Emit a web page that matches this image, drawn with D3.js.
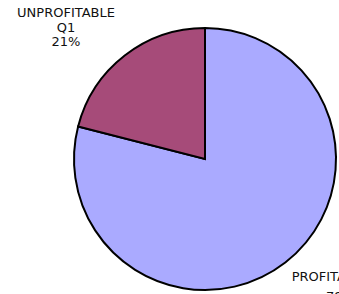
<!DOCTYPE html>
<html>
<head>
<meta charset="utf-8">
<script src="https://cdn.jsdelivr.net/npm/d3@7"></script>
<style>
body { margin: 0; background: #fff; }
text { font-family: "DejaVu Sans", Verdana, sans-serif; font-size: 13px; fill: #111; }
</style>
</head>
<body>
<div id="chart"></div>
<script>
var categories = ["PROFITABLE", "UNPROFITABLE"];
var quarter = "Q1";
var values = [79, 21];
var colors = ["#aaaaff", "#a64b79"];

var width = 339, height = 294,
    cx = 205, cy = 159, radius = 131;

var svg = d3.select("#chart").append("svg")
    .attr("width", width)
    .attr("height", height);

var g = svg.append("g")
    .attr("transform", "translate(" + cx + "," + cy + ")");

var pie = d3.pie().sort(null).value(function(d) { return d; });
var arc = d3.arc().innerRadius(0).outerRadius(radius);

var arcs = pie(values);

g.selectAll(".slice")
    .data(arcs)
    .enter().append("path")
    .attr("class", "slice")
    .attr("d", arc)
    .attr("fill", function(d, i) { return colors[i]; })
    .attr("stroke", "#000")
    .attr("stroke-width", 2)
    .attr("stroke-linejoin", "miter");

// labels: unprofitable top-left, profitable bottom-right (runs off the edge)
var labels = [
    { x: 126, y: 122, lines: [[categories[0], 0, 0, "middle"], [values[0] + "%", -5, 20, "start"]] },
    { x: -139, y: -142, lines: [[categories[1], 0, 0, "middle"], [quarter, 0, 15, "middle"], [values[1] + "%", 0, 29, "middle"]] }
];

labels.forEach(function(l) {
    var t = g.append("text")
        .attr("transform", "translate(" + l.x + "," + l.y + ")");
    l.lines.forEach(function(s) {
        t.append("tspan")
            .attr("x", s[1])
            .attr("y", s[2])
            .attr("text-anchor", s[3])
            .text(s[0]);
    });
});
</script>
</body>
</html>
